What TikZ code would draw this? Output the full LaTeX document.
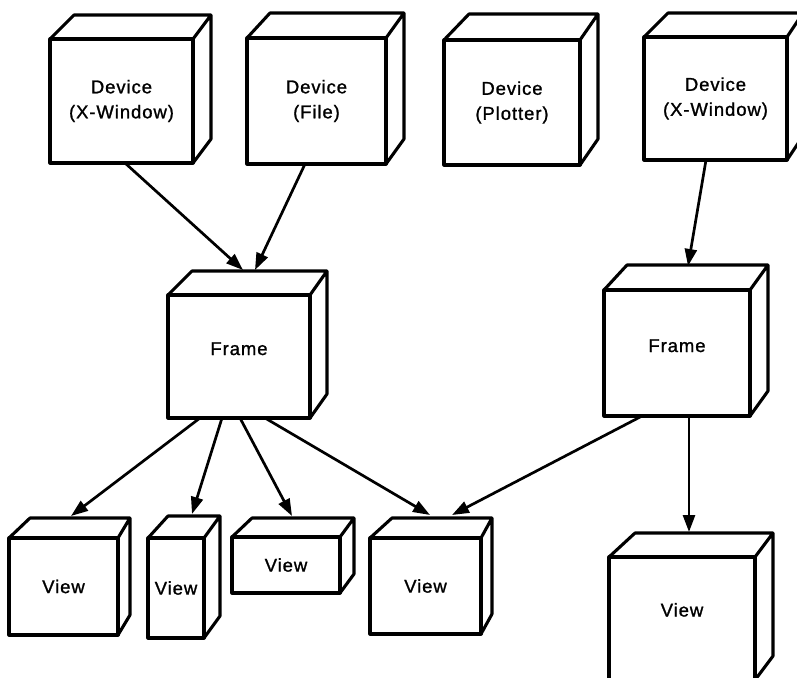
\documentclass[tikz,border=0pt]{standalone}
\usepackage{fontspec}
\setmainfont{Liberation Sans}[LetterSpace=5, FakeBold=1.2]
\usetikzlibrary{arrows.meta,calc}

\tikzset{
  boxline/.style={line width=3.1pt, line join=round},
  front/.style={boxline, draw, rectangle, inner sep=0pt, outer sep=0pt,
    align=center, font=\fontsize{18.5}{25}\selectfont},
  link/.style={line width=2.7pt, -{Triangle[length=17pt,width=12pt]}},
}

% #1 name, #2-#5 front face (left, top, right, bottom),
% #6 depth shift of the left back edge, #7 of the right back edge, #8 rise, #9 label
\newcommand{\solidbox}[9]{%
  \node[front, minimum width={(#4)-(#2)}, minimum height={(#5)-(#3)}]
    (#1) at ({((#2)+(#4))/2},{((#3)+(#5))/2}) {#9};
  \draw[boxline] (#1.north west) -- ++(#6,-#8)
      -- ($(#1.north east)+(#7,-#8)$) -- ($(#1.south east)+(#7,-#8)$)
      -- (#1.south east)
    (#1.north east) -- ++(#7,-#8);
}

\begin{document}
\begin{tikzpicture}[x=1pt, y=-1pt]
  \useasboundingbox (0,0) rectangle (797,677);
  \clip (0,0) rectangle (797,677);

  % devices
  \solidbox{devA}{50}{39}{193}{163}{24}{18}{24}{Device\\(X-Window)}
  \solidbox{devB}{247}{38}{386}{164}{23}{18}{25}{Device\\(File)}
  \solidbox{devC}{444}{40}{580}{165}{25}{18}{26}{Device\\(Plotter)}
  \solidbox{devD}{644}{37}{787}{160}{24}{16}{24}{Device\\(X-Window)}

  % frames
  \solidbox{frameL}{168}{295}{310}{418}{24}{17}{24}{\raisebox{0pt}[0pt][3pt]{Frame}}
  \solidbox{frameR}{604}{290}{750}{416}{23}{18}{25}{\raisebox{0pt}[0pt][2pt]{Frame}}

  % views
  \solidbox{viewA}{9}{538}{118}{635}{21}{12}{20}{View}
  \solidbox{viewB}{148}{538}{204}{638}{20}{16}{22}{View}
  \solidbox{viewC}{232}{537}{340}{593}{20}{14}{19}{View}
  \solidbox{viewD}{370}{538}{481}{634}{22}{11}{20}{View}
  \solidbox{viewE}{609}{557}{755}{680}{26}{18}{24}{\raisebox{0pt}[0pt][4pt]{View}}

  % device -> frame
  \draw[link] ([xshift=3.5pt]devA.south) -- ([xshift=4pt,yshift=25pt]frameL.north);
  \draw[link] ([xshift=-11.5pt]devB.south) -- ([xshift=16pt,yshift=25pt]frameL.north);
  \draw[link] ([xshift=-9.5pt]devD.south) -- ([xshift=11pt,yshift=24pt]frameR.north);

  % frame -> view
  \draw[link] ([xshift=-39pt]frameL.south) -- ([xshift=7.5pt,yshift=22pt]viewA.north);
  \draw[link] ([xshift=-17pt]frameL.south) -- ([xshift=16pt,yshift=24pt]viewB.north);
  \draw[link] ([xshift=1pt]frameL.south) -- ([xshift=6pt,yshift=21pt]viewC.north);
  \draw[link] ([xshift=26pt]frameL.south) -- ([xshift=4.5pt,yshift=23pt]viewD.north);
  \draw[link] ([xshift=-35pt]frameR.south) -- ([xshift=26.5pt,yshift=23pt]viewD.north);
  \draw[link] ([xshift=12pt]frameR.south) -- ([xshift=7pt,yshift=25pt]viewE.north);
\end{tikzpicture}
\end{document}
